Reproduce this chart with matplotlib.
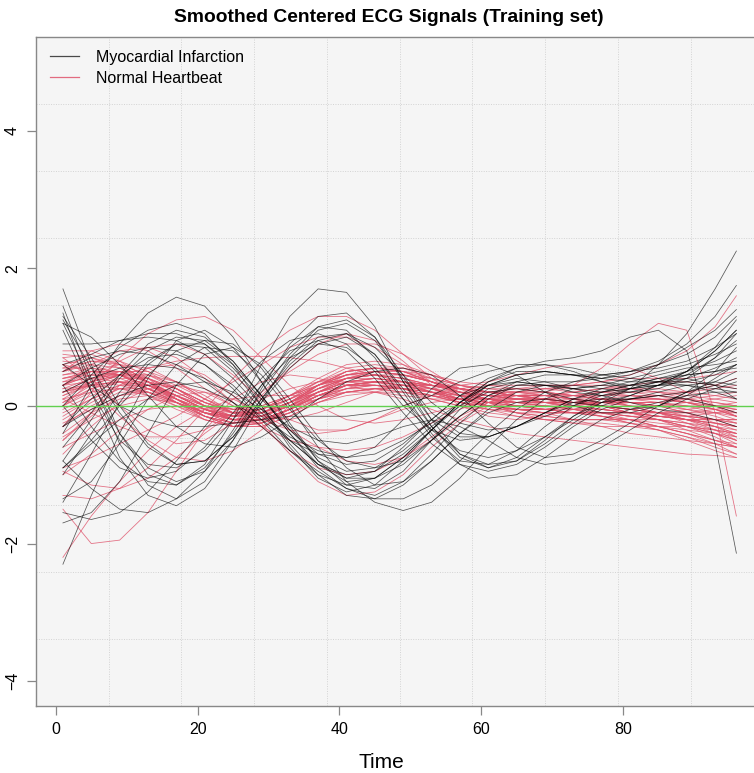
import numpy as np
import matplotlib
matplotlib.use("Agg")
import matplotlib.pyplot as plt

plt.rcParams['font.family'] = ['Liberation Sans', 'DejaVu Sans']

# sampling times of the smoothed curves
time_points = [1, 5, 9, 13, 17, 21, 25, 29, 33, 37, 41, 45, 49,
               53, 57, 61, 65, 69, 73, 77, 81, 85, 89, 93, 96]

# smoothed, centered signals - myocardial infarction class
mi_curves = [
    [-0.4, 0.3, 0.9, 1.35, 1.58, 1.45, 1.0, 0.35, -0.3, -0.8, -1.05, -0.95, -0.6, -0.2, 0.15, 0.3, 0.35, 0.3, 0.25, 0.3, 0.4, 0.5, 0.6, 0.75, 0.9],
    [-2.3, -1.3, -0.4, 0.4, 0.95, 1.1, 0.85, 0.35, -0.25, -0.8, -1.15, -1.2, -0.95, -0.5, -0.05, 0.25, 0.35, 0.3, 0.2, 0.15, 0.2, 0.3, 0.4, 0.55, 0.7],
    [0.0, 0.45, 0.85, 1.1, 1.2, 1.05, 0.6, 0.0, -0.6, -1.05, -1.25, -1.15, -0.8, -0.35, 0.05, 0.3, 0.4, 0.35, 0.25, 0.2, 0.25, 0.35, 0.4, 0.3, 0.1],
    [-0.8, -0.2, 0.4, 0.8, 1.0, 0.95, 0.65, 0.15, -0.4, -0.9, -1.2, -1.3, -1.1, -0.7, -0.25, 0.1, 0.3, 0.35, 0.35, 0.4, 0.5, 0.6, 0.75, 1.0, 1.3],
    [0.6, 0.75, 0.95, 1.05, 1.05, 0.9, 0.55, 0.1, -0.35, -0.7, -0.85, -0.8, -0.55, -0.2, 0.15, 0.4, 0.55, 0.6, 0.55, 0.45, 0.4, 0.35, 0.3, 0.2, 0.1],
    [-1.4, -0.7, 0.05, 0.6, 0.9, 0.9, 0.6, 0.15, -0.35, -0.75, -0.95, -0.9, -0.65, -0.3, 0.0, 0.2, 0.25, 0.2, 0.1, 0.05, 0.1, 0.2, 0.3, 0.35, 0.3],
    [0.3, 0.55, 0.75, 0.85, 0.8, 0.6, 0.25, -0.2, -0.65, -1.0, -1.15, -1.05, -0.75, -0.35, 0.05, 0.35, 0.5, 0.5, 0.45, 0.4, 0.45, 0.6, 0.85, 1.1, 1.4],
    [-1.0, -0.4, 0.2, 0.65, 0.9, 0.85, 0.5, 0.0, -0.55, -1.0, -1.3, -1.35, -1.15, -0.8, -0.4, -0.1, 0.05, 0.1, 0.05, 0.0, -0.05, 0.0, 0.15, 0.4, 0.6],
    [0.9, 0.9, 0.95, 1.0, 0.95, 0.75, 0.4, -0.05, -0.5, -0.85, -1.0, -0.95, -0.7, -0.35, 0.0, 0.3, 0.45, 0.5, 0.45, 0.45, 0.5, 0.65, 0.9, 1.3, 1.75],
    [-0.3, 0.1, 0.45, 0.7, 0.75, 0.6, 0.3, -0.1, -0.5, -0.85, -1.05, -1.05, -0.85, -0.5, -0.15, 0.15, 0.3, 0.3, 0.25, 0.15, 0.05, -0.05, -0.1, -0.2, -0.3],
    [-1.7, -1.55, -1.1, -0.4, 0.3, 0.75, 0.85, 0.6, 0.1, -0.45, -0.9, -1.15, -1.1, -0.8, -0.4, -0.05, 0.2, 0.3, 0.3, 0.25, 0.2, 0.25, 0.4, 0.7, 1.05],
    [0.2, 0.4, 0.55, 0.6, 0.55, 0.4, 0.15, -0.15, -0.45, -0.65, -0.75, -0.7, -0.5, -0.25, 0.05, 0.3, 0.45, 0.5, 0.45, 0.35, 0.3, 0.35, 0.5, 0.8, 1.1],
    [-0.6, -0.1, 0.45, 0.9, 1.1, 1.0, 0.65, 0.15, -0.4, -0.85, -1.1, -1.05, -0.75, -0.35, 0.05, 0.35, 0.55, 0.65, 0.7, 0.8, 1.0, 1.1, 0.8, -0.55, -2.14],
    [-1.35, -1.1, -0.55, 0.1, 0.6, 0.85, 0.8, 0.45, -0.05, -0.5, -0.8, -0.9, -0.8, -0.5, -0.15, 0.15, 0.35, 0.45, 0.45, 0.4, 0.35, 0.35, 0.35, 0.3, 0.25],
    [-0.9, -0.5, 0.0, 0.45, 0.8, 0.95, 0.9, 0.55, 0.0, -0.6, -1.1, -1.4, -1.52, -1.4, -1.05, -0.6, -0.2, 0.1, 0.25, 0.3, 0.3, 0.3, 0.35, 0.45, 0.6],
    [0.5, 0.7, 0.8, 0.75, 0.6, 0.35, 0.05, -0.3, -0.65, -0.95, -1.2, -1.35, -1.35, -1.15, -0.8, -0.4, -0.05, 0.2, 0.35, 0.45, 0.5, 0.55, 0.65, 0.85, 1.05],
    [1.7, 0.6, -0.4, -1.0, -1.15, -0.85, -0.2, 0.6, 1.3, 1.7, 1.65, 1.15, 0.35, -0.2, -0.45, -0.45, -0.3, -0.1, 0.05, 0.1, 0.1, 0.15, 0.2, 0.3, 0.4],
    [1.45, 0.4, -0.55, -1.15, -1.35, -1.1, -0.5, 0.25, 0.9, 1.3, 1.35, 1.0, 0.35, -0.3, -0.75, -0.9, -0.75, -0.45, -0.15, 0.05, 0.15, 0.3, 0.5, 0.85, 1.25],
    [1.35, 0.2, -0.75, -1.3, -1.45, -1.2, -0.65, 0.05, 0.7, 1.1, 1.2, 0.95, 0.4, -0.1, -0.4, -0.45, -0.3, -0.1, 0.1, 0.25, 0.35, 0.45, 0.55, 0.6, 0.65],
    [1.2, 0.35, -0.4, -0.9, -1.1, -0.95, -0.5, 0.1, 0.65, 1.0, 1.05, 0.75, 0.2, -0.4, -0.85, -1.05, -1.0, -0.75, -0.45, -0.2, -0.05, 0.05, 0.15, 0.2, 0.2],
    [1.25, 0.55, -0.1, -0.6, -0.85, -0.8, -0.45, 0.05, 0.55, 0.9, 1.0, 0.75, 0.25, -0.3, -0.7, -0.85, -0.8, -0.55, -0.25, 0.0, 0.15, 0.3, 0.5, 0.8, 1.1],
    [0.3, -0.3, -0.8, -1.1, -1.15, -0.9, -0.4, 0.2, 0.75, 1.15, 1.25, 1.0, 0.45, -0.2, -0.7, -0.9, -0.8, -0.5, -0.15, 0.1, 0.25, 0.3, 0.3, 0.25, 0.2],
    [1.3, 0.7, 0.0, -0.55, -0.85, -0.8, -0.45, 0.1, 0.6, 0.95, 1.05, 0.85, 0.45, 0.05, -0.25, -0.35, -0.3, -0.15, 0.0, 0.15, 0.25, 0.35, 0.45, 0.5, 0.6],
    [-0.8, -1.2, -1.5, -1.55, -1.35, -0.95, -0.35, 0.3, 0.85, 1.15, 1.1, 0.7, 0.1, -0.45, -0.8, -0.85, -0.65, -0.3, 0.0, 0.2, 0.3, 0.4, 0.5, 0.65, 0.8],
    [-1.55, -1.65, -1.55, -1.25, -0.8, -0.3, 0.2, 0.65, 0.95, 1.05, 0.9, 0.5, 0.0, -0.35, -0.5, -0.45, -0.3, -0.1, 0.1, 0.2, 0.3, 0.4, 0.45, 0.5, 0.55],
    [1.1, 0.2, -0.5, -0.85, -0.9, -0.65, -0.2, 0.3, 0.7, 0.9, 0.85, 0.55, 0.1, -0.35, -0.65, -0.75, -0.65, -0.45, -0.2, 0.05, 0.25, 0.6, 1.05, 1.7, 2.25],
    [0.0, -0.5, -0.9, -1.05, -0.95, -0.6, -0.1, 0.4, 0.8, 0.95, 0.8, 0.4, -0.1, -0.55, -0.85, -0.95, -0.85, -0.6, -0.3, -0.05, 0.1, 0.15, 0.1, 0.0, -0.1],
    [0.6, 0.3, 0.0, -0.2, -0.3, -0.3, -0.25, -0.2, -0.15, -0.15, -0.15, -0.1, 0.0, 0.15, 0.35, 0.5, 0.6, 0.6, 0.5, 0.35, 0.25, 0.3, 0.45, 0.7, 0.95],
    [-0.3, -0.05, 0.15, 0.3, 0.35, 0.25, 0.05, -0.2, -0.5, -0.7, -0.75, -0.6, -0.2, 0.25, 0.55, 0.6, 0.45, 0.2, 0.0, -0.1, -0.1, 0.0, 0.2, 0.5, 0.85],
    [1.2, 1.0, 0.6, 0.15, -0.3, -0.55, -0.6, -0.45, -0.2, 0.1, 0.35, 0.5, 0.55, 0.45, 0.15, -0.25, -0.6, -0.75, -0.7, -0.5, -0.25, 0.0, 0.2, 0.35, 0.5],
    [-0.9, -0.55, -0.2, 0.1, 0.3, 0.35, 0.2, -0.05, -0.3, -0.5, -0.55, -0.45, -0.3, -0.2, -0.3, -0.5, -0.75, -0.85, -0.8, -0.6, -0.35, -0.1, 0.1, 0.25, 0.35],
]

# smoothed, centered signals - normal heartbeat class
normal_curves = [
    [0.5, 0.6, 0.55, 0.4, 0.2, 0.0, -0.1, -0.05, 0.1, 0.3, 0.45, 0.5, 0.45, 0.35, 0.25, 0.2, 0.15, 0.1, 0.1, 0.1, 0.05, 0.0, -0.05, -0.1, -0.15],
    [0.3, 0.45, 0.45, 0.3, 0.1, -0.1, -0.2, -0.15, 0.0, 0.2, 0.35, 0.4, 0.35, 0.25, 0.15, 0.1, 0.05, 0.0, -0.05, -0.05, -0.1, -0.15, -0.2, -0.25, -0.3],
    [0.0, 0.25, 0.35, 0.3, 0.15, -0.05, -0.15, -0.1, 0.05, 0.25, 0.4, 0.45, 0.4, 0.3, 0.2, 0.15, 0.15, 0.15, 0.1, 0.05, 0.0, 0.0, 0.05, 0.1, 0.15],
    [-0.3, 0.0, 0.2, 0.2, 0.05, -0.15, -0.3, -0.25, -0.05, 0.2, 0.35, 0.4, 0.35, 0.2, 0.05, -0.05, -0.1, -0.1, -0.1, -0.15, -0.2, -0.3, -0.4, -0.5, -0.55],
    [0.6, 0.7, 0.6, 0.35, 0.05, -0.2, -0.3, -0.2, 0.05, 0.3, 0.5, 0.55, 0.5, 0.35, 0.2, 0.1, 0.05, 0.05, 0.05, 0.1, 0.15, 0.15, 0.1, 0.05, 0.0],
    [0.1, 0.35, 0.5, 0.5, 0.35, 0.1, -0.1, -0.1, 0.05, 0.25, 0.45, 0.55, 0.55, 0.45, 0.3, 0.2, 0.1, 0.05, 0.05, 0.05, 0.1, 0.1, 0.1, 0.05, 0.0],
    [-0.5, -0.15, 0.15, 0.25, 0.15, -0.05, -0.2, -0.15, 0.0, 0.2, 0.35, 0.35, 0.25, 0.1, 0.0, -0.05, -0.05, -0.05, -0.1, -0.15, -0.2, -0.3, -0.4, -0.5, -0.6],
    [0.4, 0.5, 0.45, 0.3, 0.1, -0.1, -0.25, -0.25, -0.1, 0.1, 0.25, 0.35, 0.35, 0.3, 0.25, 0.2, 0.2, 0.15, 0.1, 0.0, -0.1, -0.15, -0.2, -0.2, -0.2],
    [0.7, 0.75, 0.6, 0.35, 0.1, -0.1, -0.15, -0.05, 0.15, 0.35, 0.45, 0.45, 0.35, 0.2, 0.1, 0.05, 0.05, 0.1, 0.15, 0.2, 0.2, 0.15, 0.05, -0.05, -0.15],
    [-0.1, 0.1, 0.25, 0.25, 0.1, -0.1, -0.25, -0.2, -0.05, 0.15, 0.3, 0.3, 0.25, 0.15, 0.05, 0.0, -0.05, -0.1, -0.2, -0.3, -0.4, -0.45, -0.5, -0.55, -0.6],
    [0.2, 0.4, 0.5, 0.4, 0.2, 0.0, -0.1, -0.05, 0.15, 0.4, 0.6, 0.65, 0.6, 0.45, 0.3, 0.2, 0.15, 0.15, 0.2, 0.25, 0.3, 0.35, 0.35, 0.3, 0.25],
    [0.45, 0.55, 0.5, 0.35, 0.15, -0.05, -0.15, -0.1, 0.05, 0.2, 0.3, 0.3, 0.25, 0.15, 0.05, 0.0, -0.05, -0.05, 0.0, 0.05, 0.05, 0.0, -0.1, -0.25, -0.35],
    [-0.2, 0.05, 0.25, 0.3, 0.2, 0.0, -0.15, -0.15, 0.0, 0.2, 0.35, 0.4, 0.35, 0.25, 0.15, 0.1, 0.1, 0.15, 0.2, 0.25, 0.25, 0.2, 0.1, 0.0, -0.1],
    [0.35, 0.5, 0.5, 0.35, 0.15, -0.05, -0.2, -0.2, -0.05, 0.15, 0.3, 0.35, 0.3, 0.2, 0.1, 0.05, 0.0, -0.05, -0.1, -0.1, -0.15, -0.2, -0.3, -0.4, -0.5],
    [0.55, 0.55, 0.45, 0.25, 0.05, -0.15, -0.25, -0.2, -0.05, 0.15, 0.3, 0.35, 0.35, 0.3, 0.25, 0.2, 0.15, 0.1, 0.05, 0.0, -0.05, -0.1, -0.1, -0.05, 0.0],
    [0.0, 0.2, 0.35, 0.35, 0.25, 0.05, -0.1, -0.1, 0.05, 0.3, 0.5, 0.55, 0.5, 0.35, 0.2, 0.1, 0.0, -0.05, -0.05, 0.0, 0.05, 0.05, 0.0, -0.1, -0.2],
    [0.25, 0.3, 0.25, 0.15, 0.0, -0.15, -0.25, -0.2, -0.05, 0.15, 0.3, 0.35, 0.3, 0.2, 0.1, 0.05, 0.0, 0.0, 0.05, 0.1, 0.1, 0.05, -0.05, -0.15, -0.25],
    [0.8, 0.8, 0.65, 0.4, 0.1, -0.15, -0.25, -0.15, 0.05, 0.3, 0.45, 0.5, 0.45, 0.35, 0.25, 0.2, 0.15, 0.1, 0.0, -0.1, -0.2, -0.3, -0.35, -0.4, -0.45],
    [-0.4, -0.1, 0.1, 0.15, 0.05, -0.1, -0.2, -0.15, 0.0, 0.25, 0.4, 0.45, 0.4, 0.3, 0.2, 0.15, 0.1, 0.1, 0.05, 0.0, -0.05, -0.1, -0.2, -0.35, -0.5],
    [0.15, 0.35, 0.45, 0.4, 0.25, 0.05, -0.1, -0.1, 0.05, 0.2, 0.3, 0.3, 0.25, 0.2, 0.2, 0.2, 0.25, 0.3, 0.3, 0.3, 0.25, 0.2, 0.2, 0.25, 0.3],
    [0.5, 0.65, 0.65, 0.5, 0.25, 0.0, -0.15, -0.15, 0.0, 0.2, 0.35, 0.4, 0.35, 0.25, 0.1, 0.0, -0.1, -0.15, -0.2, -0.2, -0.25, -0.3, -0.4, -0.55, -0.7],
    [0.1, 0.2, 0.25, 0.2, 0.05, -0.15, -0.3, -0.3, -0.15, 0.05, 0.2, 0.25, 0.25, 0.2, 0.15, 0.1, 0.05, 0.0, -0.05, -0.1, -0.15, -0.15, -0.15, -0.1, -0.05],
    [0.3, 0.5, 0.6, 0.55, 0.35, 0.1, -0.1, -0.15, 0.0, 0.2, 0.4, 0.45, 0.4, 0.25, 0.1, 0.0, -0.05, -0.05, 0.0, 0.05, 0.1, 0.15, 0.2, 0.3, 0.4],
    [-0.05, 0.15, 0.3, 0.3, 0.15, -0.05, -0.2, -0.2, -0.05, 0.15, 0.3, 0.35, 0.3, 0.2, 0.05, -0.05, -0.15, -0.2, -0.25, -0.25, -0.3, -0.35, -0.45, -0.6, -0.7],
    [0.65, 0.6, 0.45, 0.25, 0.05, -0.1, -0.15, -0.05, 0.15, 0.35, 0.5, 0.55, 0.5, 0.4, 0.3, 0.25, 0.25, 0.25, 0.25, 0.2, 0.15, 0.1, 0.05, 0.0, -0.05],
    [0.2, 0.3, 0.35, 0.25, 0.1, -0.05, -0.15, -0.1, 0.05, 0.25, 0.4, 0.45, 0.45, 0.4, 0.3, 0.25, 0.2, 0.15, 0.1, 0.05, 0.0, -0.05, -0.15, -0.3, -0.45],
    [0.4, 0.45, 0.4, 0.25, 0.05, -0.1, -0.2, -0.15, 0.0, 0.15, 0.25, 0.25, 0.2, 0.1, 0.0, -0.1, -0.15, -0.2, -0.2, -0.2, -0.2, -0.25, -0.3, -0.35, -0.4],
    [-0.15, 0.1, 0.3, 0.35, 0.25, 0.05, -0.1, -0.1, 0.05, 0.3, 0.45, 0.5, 0.45, 0.35, 0.25, 0.2, 0.2, 0.2, 0.15, 0.1, 0.05, 0.05, 0.1, 0.15, 0.2],
    [0.25, 0.4, 0.45, 0.35, 0.15, -0.05, -0.2, -0.2, -0.1, 0.05, 0.15, 0.2, 0.2, 0.15, 0.1, 0.05, 0.0, -0.05, -0.1, -0.15, -0.25, -0.35, -0.5, -0.65, -0.75],
    [0.55, 0.65, 0.6, 0.45, 0.25, 0.05, -0.05, -0.05, 0.1, 0.3, 0.45, 0.5, 0.45, 0.35, 0.25, 0.2, 0.2, 0.25, 0.3, 0.35, 0.4, 0.4, 0.4, 0.45, 0.5],
    [0.05, 0.25, 0.4, 0.4, 0.25, 0.0, -0.2, -0.25, -0.1, 0.1, 0.3, 0.35, 0.3, 0.2, 0.1, 0.05, 0.05, 0.05, 0.0, -0.05, -0.1, -0.1, -0.05, 0.0, 0.05],
    [0.35, 0.4, 0.35, 0.2, 0.0, -0.2, -0.3, -0.25, -0.05, 0.2, 0.4, 0.5, 0.45, 0.35, 0.2, 0.1, 0.0, -0.05, -0.1, -0.1, -0.1, -0.15, -0.2, -0.25, -0.3],
    [-0.25, -0.05, 0.15, 0.2, 0.1, -0.05, -0.15, -0.1, 0.1, 0.35, 0.55, 0.6, 0.55, 0.4, 0.25, 0.15, 0.1, 0.05, 0.05, 0.05, 0.05, 0.0, -0.1, -0.2, -0.3],
    [0.45, 0.5, 0.45, 0.3, 0.15, 0.0, -0.05, 0.0, 0.15, 0.3, 0.4, 0.4, 0.35, 0.25, 0.15, 0.1, 0.05, 0.05, 0.05, 0.0, -0.1, -0.2, -0.35, -0.5, -0.6],
    [0.15, 0.3, 0.35, 0.3, 0.15, -0.05, -0.2, -0.2, -0.05, 0.15, 0.25, 0.3, 0.25, 0.15, 0.05, 0.0, 0.0, 0.05, 0.1, 0.15, 0.2, 0.2, 0.15, 0.1, 0.05],
    [0.75, 0.7, 0.55, 0.35, 0.15, 0.0, -0.05, 0.0, 0.15, 0.3, 0.4, 0.45, 0.4, 0.3, 0.2, 0.15, 0.1, 0.1, 0.15, 0.2, 0.25, 0.25, 0.2, 0.15, 0.1],
    [-0.45, -0.2, 0.0, 0.1, 0.05, -0.1, -0.2, -0.2, -0.05, 0.15, 0.3, 0.35, 0.35, 0.3, 0.25, 0.2, 0.15, 0.1, 0.05, 0.05, 0.05, 0.05, 0.0, -0.05, -0.1],
    [0.3, 0.35, 0.3, 0.2, 0.05, -0.1, -0.15, -0.1, 0.05, 0.25, 0.4, 0.5, 0.5, 0.45, 0.35, 0.3, 0.25, 0.2, 0.15, 0.15, 0.15, 0.1, 0.05, -0.05, -0.15],
    [0.05, 0.3, 0.45, 0.45, 0.3, 0.1, -0.05, -0.05, 0.1, 0.25, 0.35, 0.35, 0.3, 0.2, 0.1, 0.0, -0.1, -0.15, -0.2, -0.2, -0.2, -0.2, -0.25, -0.35, -0.45],
    [0.6, 0.5, 0.35, 0.15, -0.05, -0.2, -0.3, -0.25, -0.1, 0.1, 0.25, 0.3, 0.3, 0.25, 0.2, 0.15, 0.15, 0.15, 0.15, 0.1, 0.05, 0.0, 0.0, 0.0, 0.0],
    [-0.3, 0.2, 0.7, 1.05, 1.25, 1.3, 1.1, 0.7, 0.3, 0.0, -0.2, -0.25, -0.2, -0.1, 0.0, 0.05, 0.1, 0.1, 0.05, 0.0, -0.05, -0.1, -0.15, -0.2, -0.25],
    [0.5, 0.8, 0.9, 0.8, 0.55, 0.25, 0.0, -0.15, -0.2, -0.1, 0.05, 0.2, 0.3, 0.3, 0.25, 0.15, 0.1, 0.05, 0.0, -0.05, -0.1, -0.15, -0.2, -0.2, -0.2],
    [-1.5, -2.0, -1.95, -1.55, -0.95, -0.35, 0.1, 0.35, 0.45, 0.4, 0.3, 0.2, 0.15, 0.1, 0.1, 0.1, 0.1, 0.1, 0.05, 0.0, -0.05, -0.1, -0.15, -0.2, -0.2],
    [-2.2, -1.6, -1.1, -0.65, -0.3, -0.05, 0.1, 0.15, 0.15, 0.15, 0.2, 0.25, 0.3, 0.3, 0.25, 0.2, 0.15, 0.05, -0.05, -0.1, -0.15, -0.2, -0.25, -0.3, -0.35],
    [-0.95, -1.15, -1.2, -1.05, -0.75, -0.4, -0.1, 0.1, 0.25, 0.35, 0.35, 0.3, 0.25, 0.2, 0.15, 0.15, 0.1, 0.05, 0.0, -0.05, -0.1, -0.15, -0.2, -0.25, -0.3],
    [-1.3, -1.35, -1.2, -0.9, -0.5, -0.05, 0.4, 0.8, 1.1, 1.3, 1.3, 1.1, 0.75, 0.4, 0.15, 0.0, -0.05, -0.05, 0.0, 0.05, 0.1, 0.1, 0.05, 0.0, -0.05],
    [0.7, 0.4, 0.0, -0.35, -0.55, -0.5, -0.25, 0.15, 0.55, 0.9, 1.05, 0.95, 0.65, 0.3, 0.0, -0.15, -0.2, -0.15, -0.05, 0.05, 0.1, 0.1, 0.05, -0.05, -0.15],
    [0.3, 0.6, 0.8, 0.85, 0.7, 0.4, 0.05, -0.3, -0.65, -0.9, -1.0, -0.95, -0.75, -0.45, -0.15, 0.05, 0.15, 0.15, 0.1, 0.0, -0.1, -0.2, -0.3, -0.4, -0.5],
    [-0.5, -0.1, 0.3, 0.55, 0.6, 0.45, 0.15, -0.25, -0.7, -1.1, -1.3, -1.25, -1.0, -0.6, -0.25, 0.0, 0.1, 0.1, 0.05, 0.0, -0.05, -0.1, -0.15, -0.2, -0.25],
    [0.2, 0.35, 0.45, 0.45, 0.35, 0.15, -0.1, -0.3, -0.5, -0.6, -0.65, -0.6, -0.45, -0.25, -0.05, 0.1, 0.2, 0.2, 0.15, 0.1, 0.0, -0.1, -0.25, -0.4, -0.55],
    [0.0, 0.35, 0.65, 0.85, 0.9, 0.75, 0.45, 0.1, -0.2, -0.35, -0.35, -0.2, 0.0, 0.15, 0.25, 0.3, 0.3, 0.3, 0.3, 0.35, 0.45, 0.6, 0.8, 1.15, 1.6],
    [0.4, 0.5, 0.5, 0.35, 0.1, -0.15, -0.3, -0.3, -0.15, 0.05, 0.2, 0.25, 0.2, 0.15, 0.1, 0.1, 0.15, 0.2, 0.3, 0.55, 0.9, 1.2, 1.1, -0.1, -1.6],
    [-0.6, -0.4, -0.2, -0.05, 0.0, -0.05, -0.1, -0.1, 0.0, 0.1, 0.2, 0.25, 0.25, 0.25, 0.3, 0.35, 0.45, 0.55, 0.62, 0.63, 0.55, 0.4, 0.2, 0.0, -0.15],
    [-0.9, -0.75, -0.55, -0.35, -0.15, 0.1, 0.35, 0.6, 0.85, 1.0, 1.0, 0.85, 0.6, 0.35, 0.15, 0.0, -0.05, -0.1, -0.1, -0.1, -0.15, -0.2, -0.3, -0.45, -0.6],
    [0.6, 0.25, -0.15, -0.5, -0.75, -0.8, -0.65, -0.35, 0.0, 0.3, 0.5, 0.55, 0.5, 0.35, 0.2, 0.05, -0.05, -0.1, -0.1, -0.1, -0.1, -0.1, -0.1, -0.1, -0.1],
    [0.2, 0.3, 0.45, 0.55, 0.65, 0.7, 0.72, 0.72, 0.7, 0.65, 0.55, 0.45, 0.35, 0.3, 0.25, 0.2, 0.15, 0.1, 0.05, 0.0, -0.05, -0.1, -0.2, -0.3, -0.4],
    [-1.0, -0.7, -0.35, -0.05, 0.15, 0.2, 0.1, -0.1, -0.35, -0.6, -0.8, -0.85, -0.75, -0.5, -0.2, 0.05, 0.2, 0.25, 0.2, 0.1, 0.0, -0.1, -0.2, -0.3, -0.4],
    [0.1, -0.1, -0.3, -0.45, -0.45, -0.35, -0.1, 0.2, 0.5, 0.75, 0.9, 0.9, 0.75, 0.5, 0.25, 0.05, -0.1, -0.2, -0.25, -0.3, -0.3, -0.3, -0.3, -0.35, -0.4],
    [0.3, 0.45, 0.45, 0.3, 0.1, -0.1, -0.2, -0.2, -0.05, 0.1, 0.2, 0.2, 0.1, -0.05, -0.2, -0.3, -0.4, -0.45, -0.5, -0.55, -0.6, -0.65, -0.7, -0.72, -0.75],
    [-0.7, -0.3, 0.05, 0.25, 0.3, 0.2, 0.0, -0.2, -0.35, -0.4, -0.35, -0.2, -0.05, 0.05, 0.1, 0.1, 0.05, 0.0, -0.05, -0.15, -0.25, -0.35, -0.45, -0.55, -0.6],
]

class_labels = ['Myocardial Infarction', 'Normal Heartbeat']
mi_color = '#000000'
normal_color = '#DF536B'

t = np.array(time_points)
mi = np.array(mi_curves)
normal = np.array(normal_curves)

W, H = 754, 773
fig = plt.figure(figsize=(W / 100, H / 100), dpi=100)
# panel is open on the right: it stops at the figure edge
ax = fig.add_axes([36 / W, 1 - 706 / H, (W - 36) / W, (706 - 37) / H])
ax.set_facecolor('#F5F5F5')

# full panel limits (the visible part is cut at the right)
panel_x = (-2.8, 99.8)
panel_y = (-4.36, 5.36)
px_per_unit = (763.3 - 36) / (panel_x[1] - panel_x[0])
ax.set_xlim(panel_x[0], panel_x[0] + (W - 36) / px_per_unit)
ax.set_ylim(panel_y)

# dotted grid, ten cells each way over the full panel
for k in range(1, 10):
    ax.axvline(panel_x[0] + k * (panel_x[1] - panel_x[0]) / 10, color='#D3D3D3',
               lw=0.7, ls=(0, (1, 1.5)), zorder=0)
    ax.axhline(panel_y[0] + k * (panel_y[1] - panel_y[0]) / 10, color='#D3D3D3',
               lw=0.7, ls=(0, (1, 1.5)), zorder=0)

for curve in normal:
    ax.plot(t, curve, color=normal_color, lw=0.6, alpha=0.8, zorder=2)
for curve in mi:
    ax.plot(t, curve, color=mi_color, lw=0.55, alpha=0.65, zorder=3)

ax.axhline(0, color='#61D04F', lw=1.0, zorder=4)

for sp in ['left', 'bottom', 'top']:
    ax.spines[sp].set_color('#888888')
    ax.spines[sp].set_linewidth(1.0)
ax.spines['right'].set_visible(False)

ax.set_xticks([0, 20, 40, 60, 80])
ax.set_yticks([-4, -2, 0, 2, 4])
ax.tick_params(axis='both', length=6.5, width=0.9, color='#888888',
               labelsize=11.5, labelcolor='black')
ax.tick_params(axis='x', pad=5)
ax.tick_params(axis='y', pad=5)
for lab in ax.get_yticklabels():
    lab.set_rotation(90)
    lab.set_va('center')

legend_handles = [
    plt.Line2D([], [], color=mi_color, lw=0.9, alpha=0.7),
    plt.Line2D([], [], color=normal_color, lw=0.9, alpha=0.85),
]
fig.legend(legend_handles, class_labels, loc='upper left',
           bbox_to_anchor=(50 / W, 1 - 50 / H), frameon=False,
           fontsize=11.5, handlelength=1.8, handletextpad=1.05,
           labelspacing=0.35, borderaxespad=0, borderpad=0)

fig.text(389 / W, 1 - 17 / H, 'Smoothed Centered ECG Signals (Training set)',
         ha='center', va='center', fontsize=13.9, fontweight='bold')
fig.text(381 / W, 1 - 763 / H, 'Time', ha='center', va='center', fontsize=15)

fig.savefig('out.png', dpi=100)
